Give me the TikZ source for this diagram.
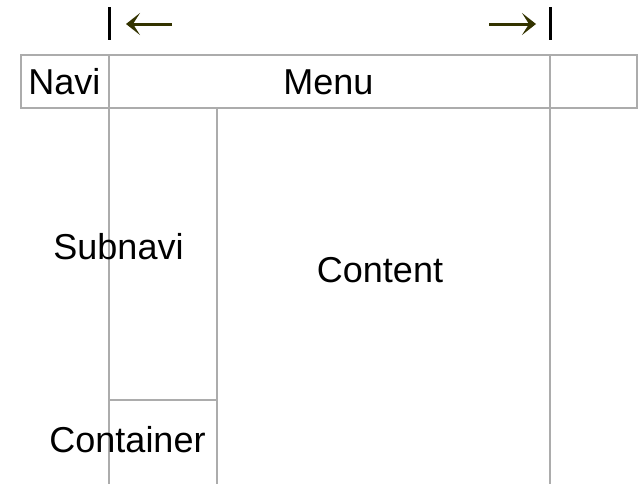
\documentclass[tikz,border=0pt]{standalone}
\usepackage{fontspec}
\setmainfont{Liberation Sans}
\usetikzlibrary{arrows.meta}
\definecolor{olivedark}{RGB}{51,51,0}
\tikzset{
  frame/.style={draw=gray!65, line width=2pt},
  lbl/.style={anchor=base, inner sep=0pt, font=\fontsize{36}{40}\selectfont},
  bar/.style={line width=3pt, draw=black},
  shiftarrow/.style={line width=3pt, draw=olivedark, -{Stealth[length=14pt,width=22pt,inset=7pt]}}
}
\begin{document}
\begin{tikzpicture}[x=1pt,y=-1pt]
    \useasboundingbox (0,0) rectangle (639,483);
    % menu bar
    \draw[frame] (21,55) rectangle (637,108);
    \draw[frame] (109,55) -- (109,108);
    \draw[frame] (550,55) -- (550,490);
    \node[lbl] (navi) at (64.5,94) {Navi};
    \node[lbl] (menu) at (328.5,94) {Menu};

    % subnavi column
    \draw[frame] (109,108) rectangle (217,400);
    \draw[frame] (109,400) rectangle (217,486);
    \node[lbl] (subnavi) at (118.5,259) {Subnavi};
    \node[lbl] (container) at (127.5,452) {Container};

    % content
    \node[lbl] (content) at (380,282) {Content};

    % markers
    \coordinate (left top) at (109,7);
    \coordinate (left bottom) at (109,40);
    \coordinate (right top) at (550,7);
    \coordinate (right bottom) at (550,40);
    \draw[bar] (left top) -- (left bottom);
    \draw[bar] (right top) -- (right bottom);
    \coordinate (left tail) at (172,24);
    \coordinate (left head) at (126,24);
    \coordinate (right tail) at (489,24);
    \coordinate (right head) at (536,24);
    \draw[shiftarrow] (left tail) -- (left head);
    \draw[shiftarrow] (right tail) -- (right head);

\end{tikzpicture}
\end{document}
